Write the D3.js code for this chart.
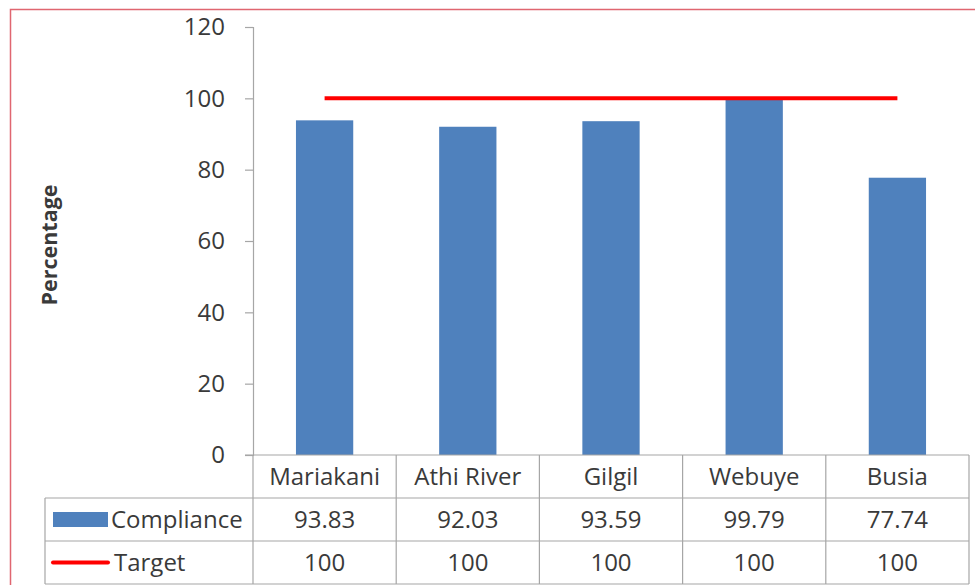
<!DOCTYPE html>
<html>
<head>
<meta charset="utf-8">
<script src="https://cdn.jsdelivr.net/npm/d3@7"></script>
<style>
  html, body { margin: 0; padding: 0; background: #fff; }
  svg { display: block; }
  text { font-family: "Open Sans", Lato, "Liberation Sans", sans-serif; fill: #3a3a3a; }
</style>
</head>
<body>
<svg id="chart" width="975" height="585"></svg>
<script>
// Compliance by site, with the 100% target line and a data table below the axis
const categories = ["Mariakani", "Athi River", "Gilgil", "Webuye", "Busia"];
const compliance = [93.83, 92.03, 93.59, 99.79, 77.74];
const target = [100, 100, 100, 100, 100];
const yTicks = [0, 20, 40, 60, 80, 100, 120];
const seriesNames = ["Compliance", "Target"];

const W = 975, H = 585;
const plot = { left: 253, right: 969, top: 27, bottom: 455 };
const table = { left: 45, rowH: 43 };
const blue = "#4F81BD", red = "#FF0000", gridColor = "#A6A6A6";
const fontFamily = '"Open Sans", Lato, "Liberation Sans", sans-serif';
const fontSize = 24;

const svg = d3.select("#chart");

// outer frame
svg.append("rect")
  .attr("x", 10.5).attr("y", 9.5)
  .attr("width", W).attr("height", H)
  .attr("fill", "none").attr("stroke", "#E06670").attr("stroke-width", 1.5);

const y = d3.scaleLinear().domain([0, 120]).range([plot.bottom, plot.top]);
const xCol = d3.scaleBand().domain(categories).range([plot.left, plot.right]).padding(0);
const xBar = d3.scaleBand().domain(categories).range([plot.left, plot.right])
  .paddingInner(0.6).paddingOuter(0.3);

// y axis
const yAxis = svg.append("g")
  .attr("transform", `translate(${plot.left},0)`)
  .call(d3.axisLeft(y).tickValues(yTicks).tickSize(8).tickPadding(20).tickFormat(d3.format("d")));
yAxis.attr("font-family", fontFamily).attr("font-size", fontSize);
yAxis.select(".domain").attr("stroke", gridColor).attr("stroke-width", 1.2);
yAxis.selectAll(".tick line").attr("stroke", gridColor).attr("stroke-width", 1.2);
yAxis.selectAll(".tick text").attr("fill", "#3a3a3a");

// y axis title
svg.append("text")
  .attr("transform", `translate(57,245) rotate(-90)`)
  .attr("text-anchor", "middle")
  .attr("font-size", 21.5).attr("font-weight", "bold").attr("fill", "#222")
  .text("Percentage");

// bars
svg.append("g").selectAll("rect")
  .data(categories)
  .join("rect")
  .attr("x", d => xBar(d))
  .attr("width", xBar.bandwidth())
  .attr("y", (d, i) => y(compliance[i]))
  .attr("height", (d, i) => y(0) - y(compliance[i]))
  .attr("fill", blue);

// target line through category centres
const line = d3.line()
  .x((d, i) => xCol(categories[i]) + xCol.bandwidth() / 2)
  .y(d => y(d));
svg.append("path")
  .datum(target)
  .attr("d", line)
  .attr("fill", "none").attr("stroke", red).attr("stroke-width", 4);

// data table grid
const rowsTop = plot.bottom;
const r1 = rowsTop + table.rowH, r2 = r1 + table.rowH, r3 = r2 + table.rowH;
const grid = svg.append("g").attr("stroke", gridColor).attr("stroke-width", 1.2);
grid.append("line").attr("x1", plot.left - 8).attr("x2", plot.right).attr("y1", rowsTop).attr("y2", rowsTop);
[r1, r2, r3].forEach(yy => grid.append("line")
  .attr("x1", table.left).attr("x2", plot.right).attr("y1", yy).attr("y2", yy));
grid.append("line").attr("x1", table.left).attr("x2", table.left).attr("y1", r1).attr("y2", r3);
grid.append("line").attr("x1", plot.left).attr("x2", plot.left).attr("y1", rowsTop).attr("y2", r3);
categories.forEach(c => {
  const xx = xCol(c) + xCol.bandwidth();
  grid.append("line").attr("x1", xx).attr("x2", xx).attr("y1", rowsTop).attr("y2", r3);
});

// category labels row
svg.append("g").selectAll("text")
  .data(categories)
  .join("text")
  .attr("x", d => xCol(d) + xCol.bandwidth() / 2)
  .attr("y", rowsTop + table.rowH / 2)
  .attr("dy", "0.36em")
  .attr("text-anchor", "middle")
  .attr("font-size", fontSize)
  .text(d => d);

// value rows
const rows = [compliance, target];
rows.forEach((vals, ri) => {
  const cy = r1 + table.rowH * ri + table.rowH / 2;
  svg.append("g").selectAll("text")
    .data(vals)
    .join("text")
    .attr("x", (d, i) => xCol(categories[i]) + xCol.bandwidth() / 2)
    .attr("y", cy)
    .attr("dy", "0.36em")
    .attr("text-anchor", "middle")
    .attr("font-size", fontSize)
    .text(d => ri === 0 ? d3.format(".2f")(d) : d3.format("d")(d));
});

// legend keys in the table's first column
const keyX = 53, keyW = 55;
svg.append("rect")
  .attr("x", keyX).attr("y", r1 + 14).attr("width", keyW).attr("height", 15)
  .attr("fill", blue);
svg.append("line")
  .attr("x1", keyX).attr("x2", keyX + keyW)
  .attr("y1", r2 + table.rowH / 2).attr("y2", r2 + table.rowH / 2)
  .attr("stroke", red).attr("stroke-width", 4).attr("stroke-linecap", "round");
seriesNames.forEach((name, i) => {
  svg.append("text")
    .attr("x", keyX + keyW + 3 + (i === 1 ? 3 : 0))
    .attr("y", r1 + table.rowH * i + table.rowH / 2)
    .attr("dy", "0.36em")
    .attr("font-size", fontSize)
    .text(name);
});
</script>
</body>
</html>
